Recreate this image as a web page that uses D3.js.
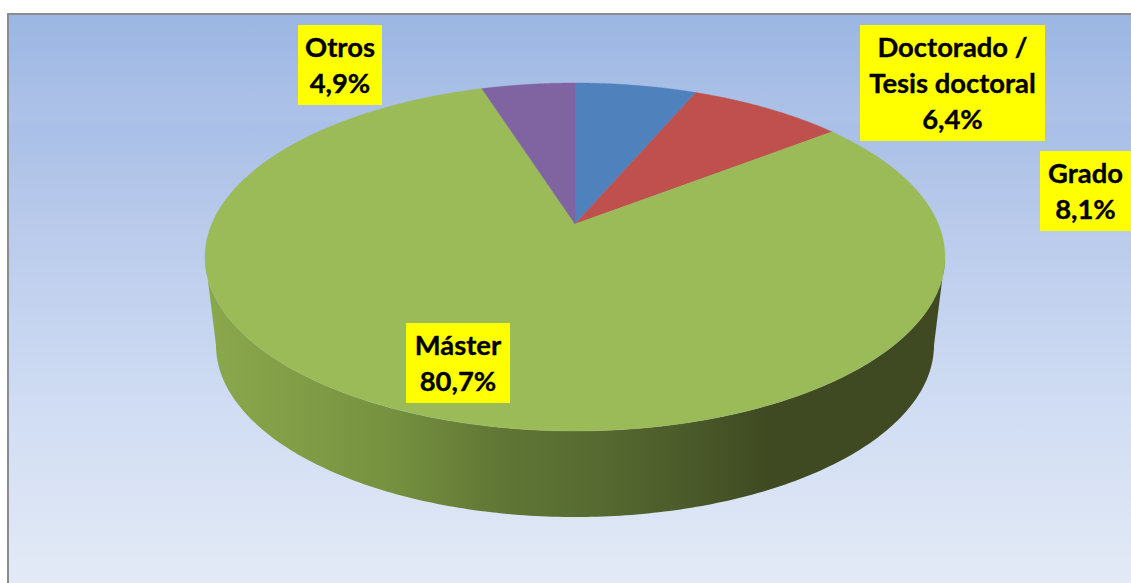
<!DOCTYPE html>
<html><head><meta charset="utf-8">
<script src="https://cdn.jsdelivr.net/npm/d3@7"></script>
<style>html,body{margin:0;padding:0;background:#fff;overflow:hidden}svg{display:block}</style>
</head><body><svg id="c" width="1131" height="583"></svg>
<script>
const categories = ["Doctorado / Tesis doctoral", "Grado", "Máster", "Otros"];
const values = [6.4, 8.1, 80.7, 4.9];
const valueLabels = ["6,4%", "8,1%", "80,7%", "4,9%"];
const labelLines = [["Doctorado /", "Tesis doctoral"], ["Grado"], ["Máster"], ["Otros"]];
const colors = ["#4f81bd", "#c0504d", "#9bbb59", "#8064a2"];

const W = 1131, H = 583;
const svg = d3.select("#c");
const defs = svg.append("defs");

// label box placement: [left, top, right, bottom]
const labelBoxes = [[860, 25, 1045, 141], [1040, 151, 1131, 231], [406, 323, 510, 403], [298, 25, 382, 105]];

function grad(id, x1, y1, x2, y2, stops) {
  const g = defs.append("linearGradient").attr("id", id).attr("gradientUnits", "userSpaceOnUse")
    .attr("x1", x1).attr("y1", y1).attr("x2", x2).attr("y2", y2);
  stops.forEach(s => g.append("stop").attr("offset", s[0]).attr("stop-color", s[1]));
}
grad("bg", 0, 14, 0, 583, [[0, "#9bb6e3"], [0.185, "#adc2e8"], [0.195, "#a9bfe7"], [0.33, "#b6c8ea"], [0.68, "#cfdcf3"], [1, "#e3eaf6"]]);
grad("wall", 205, 0, 945, 0, [[0, "#8aa84c"], [0.1, "#83a048"], [0.25, "#76913f"], [0.4, "#607636"], [0.55, "#556830"], [0.68, "#485628"], [0.76, "#3f4a22"], [1, "#3f4a22"]]);

svg.append("rect").attr("x", 7).attr("y", 13).attr("width", W - 7).attr("height", H - 13).attr("fill", "#8c8c8c");
svg.append("rect").attr("x", 9).attr("y", 15).attr("width", W - 9).attr("height", H - 15).attr("fill", "url(#bg)");

// Perspective projection of a disc onto the screen
const cx = 575, topCy = 257, rx = 370, ry = 174, apexY = 224;
const q = apexY - topCy, c = q / ry, s = rx * Math.sqrt(1 - c * c);
function project(a) {
  const X = Math.sin(a), Y = -Math.cos(a), w = 1 + c * Y;
  return [cx + s * X / w, topCy + (ry * Y + q) / w];
}
const line = d3.line();
function sample(a0, a1) {
  return d3.range(0, 1.0001, 1 / 160).map(t => project(a0 + (a1 - a0) * t));
}

// Side wall: visible front half of the disc plus its lower rim
const botCy = 345, botRx = 359, botRy = 172;
const front = d3.range(0, 1.0001, 1 / 200).map(t => {
  const a = Math.PI * t;
  return [cx + rx * Math.cos(a), topCy + ry * Math.sin(a)];
});
const rim = d3.range(0, 1.0001, 1 / 200).map(t => {
  const a = Math.PI * t;
  return [cx - botRx * Math.cos(a), botCy + botRy * Math.sin(a)];
});
svg.append("path").attr("d", line(front.concat(rim)) + "Z").attr("fill", "url(#wall)");

// Top surface slices
const pie = d3.pie().sort(null).value(d => d);
const arcs = pie(values);
svg.selectAll("path.slice").data(arcs).enter().append("path").attr("class", "slice")
  .attr("fill", (d, i) => colors[i])
  .attr("stroke", (d, i) => colors[i]).attr("stroke-width", 0.4)
  .attr("d", d => line([[cx, apexY]].concat(sample(d.startAngle, d.endAngle))) + "Z");

// Labels
const FONT = "Lato, 'Open Sans', sans-serif", FS = 27.4, LH = 36;
categories.forEach((cat, i) => {
  const b = labelBoxes[i];
  svg.append("rect").attr("x", b[0]).attr("y", b[1]).attr("width", b[2] - b[0]).attr("height", b[3] - b[1]).attr("fill", "#ffff00");
  const lines = labelLines[i].concat([valueLabels[i]]);
  const t = svg.append("text").attr("text-anchor", "middle").attr("font-family", FONT)
    .attr("font-weight", 700).attr("font-size", FS).attr("fill", "#000")
    .attr("stroke", "#000").attr("stroke-width", 0.35);
  lines.forEach((l, j) => t.append("tspan").attr("x", (b[0] + b[2]) / 2).attr("y", b[1] + 32 + j * LH).text(l));
});
</script></body></html>
